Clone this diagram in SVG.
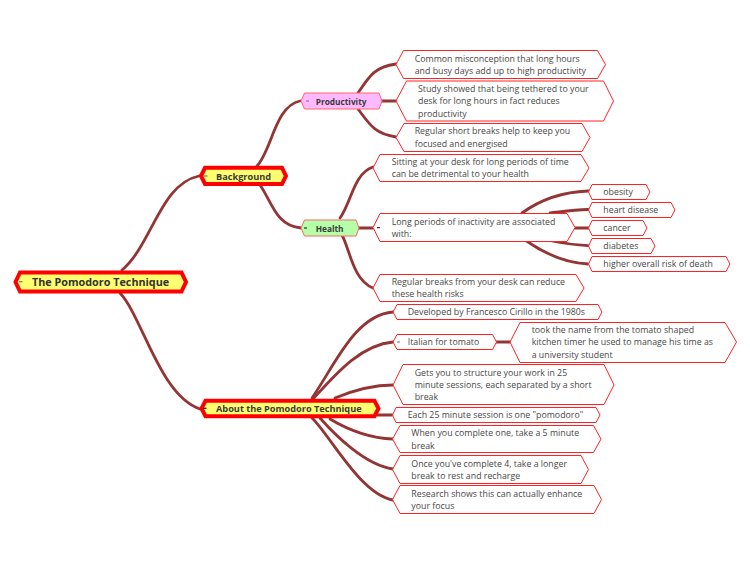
<svg xmlns="http://www.w3.org/2000/svg" width="750" height="563" viewBox="0 0 750 563">
<style>
text{font-family:"Open Sans","Noto Sans","Liberation Sans",sans-serif}
.t{font-size:8.8px;fill:#484848}
.b{font-size:9.2px;font-weight:700;fill:#3a3a3a}
.s{font-size:8.3px;font-weight:700;fill:#3a3a3a}
.r{font-size:10.8px;font-weight:700;fill:#333}
.leaf{fill:#fff;stroke:#f22;stroke-width:1}
.main{fill:#ffff70;stroke:#f00;stroke-width:4}
.pink{fill:#ffb9ff;stroke:#f66;stroke-width:1}
.green{fill:#b4ffa8;stroke:#f66;stroke-width:1}
.dash{fill:#888}
.dk{fill:#333}
#connectors path{fill:none;stroke:#933535;stroke-width:2.8;stroke-linecap:round}
</style>
<rect width="750" height="563" fill="#fff"/>
<g id="connectors">
<path d="M122,270 C152,245 160,184 199,176"/>
<path d="M120,293 C142,316 160,396 200,409"/>
<path d="M257,166 C272,150 275,106 300,101"/>
<path d="M260,185 C272,202 276,226 301,228"/>
<path d="M358,93 C370,75 375,67 396,64"/>
<path d="M382,101 L396,101"/>
<path d="M358,109 C370,125 375,134 396,137"/>
<path d="M340,218 C351,203 354,173 373,167"/>
<path d="M359,228 L373,228"/>
<path d="M342,235 C350,250 353,280 373,288"/>
<path d="M522,213 C540,200 560,192 588,191"/>
<path d="M550,213 C560,212 572,210 588,209.5"/>
<path d="M575,228 L589,228"/>
<path d="M552,241 C562,243 575,245 588,245.7"/>
<path d="M525,240 C545,254 565,263 588,264"/>
<path d="M312,398 C335,365 355,315 393,312"/>
<path d="M313,399 C335,375 360,345 393,342"/>
<path d="M335,398 C352,391 370,385 393,385"/>
<path d="M377,415 L392,415"/>
<path d="M330,419 C345,428 365,438 393,439"/>
<path d="M320,418 C335,435 365,465 393,469"/>
<path d="M312,418 C330,435 360,494 393,500"/>
<path d="M496,342 L510,342"/>
</g>
<g id="root"><polygon class="main" points="15.5,282 20,272.5 181.5,272.5 186,282 181.5,291.5 20,291.5"/><rect class="dash" x="19" y="281" width="3.5" height="1.4"/><text class="r" x="32" y="286">The Pomodoro Technique</text></g>
<g id="background"><polygon class="main" points="201,176 205,167.8 282,167.8 286,176 282,184 205,184"/><rect class="dash" x="204" y="175.3" width="3.5" height="1.4"/><text class="b" x="216" y="179.5">Background</text></g>
<g id="about"><polygon class="main" points="201.5,408.5 205.5,400.8 374.5,400.8 378.5,408.5 374.5,416.2 205.5,416.2"/><rect class="dk" x="203" y="407.6" width="3.5" height="1.4"/><text class="b" x="216" y="412">About the Pomodoro Technique</text></g>
<g id="productivity"><polygon class="pink" points="301,101 304.5,93 379,93 382,101 379,109 304.5,109"/><rect class="dash" x="306" y="100.4" width="3" height="1.2"/><text class="s" x="315.7" y="104.5">Productivity</text></g>
<g id="health"><polygon class="green" points="301,228 304.5,220 356,220 359,228 356,236 304.5,236"/><rect class="dk" x="304" y="227.4" width="3" height="1.2"/><text class="s" x="315.7" y="231.5">Health</text></g>
<g id="n1"><polygon class="leaf" points="396,64.5 403.5,50.5 597.5,50.5 605.5,64.5 597.5,78.5 403.5,78.5"/><text class="t" x="414.7" y="61.5">Common misconception that long hours</text><text class="t" x="414.7" y="74">and busy days add up to high productivity</text></g>
<g id="n2"><polygon class="leaf" points="396,101 406.5,81 603.5,81 613.5,101 603.5,121 406.5,121"/><text class="t" x="418" y="92">Study showed that being tethered to your</text><text class="t" x="418" y="104">desk for long hours in fact reduces</text><text class="t" x="418" y="116.5">productivity</text></g>
<g id="n3"><polygon class="leaf" points="396,137.5 404,123.5 582,123.5 590,137.5 582,151.5 404,151.5"/><text class="t" x="414.7" y="134">Regular short breaks help to keep you</text><text class="t" x="414.7" y="146.5">focused and energised</text></g>
<g id="n4"><polygon class="leaf" points="373,168 380,154.5 581,154.5 589,168 581,181.5 380,181.5"/><text class="t" x="391.7" y="164.5">Sitting at your desk for long periods of time</text><text class="t" x="391.7" y="177">can be detrimental to your health</text></g>
<g id="n5"><polygon class="leaf" points="373,227.5 380,213.5 567,213.5 575,227.5 567,241.5 380,241.5"/><rect class="dk" x="377" y="227" width="3" height="1.2"/><text class="t" x="391.7" y="224.5">Long periods of inactivity are associated</text><text class="t" x="391.7" y="237">with:</text></g>
<g id="n6"><polygon class="leaf" points="588.5,192 592,184.5 646,184.5 650,192 646,199.5 592,199.5"/><text class="t" x="603.3" y="195">obesity</text></g>
<g id="n7"><polygon class="leaf" points="588.5,210 592,202.5 671,202.5 675,210 671,217.5 592,217.5"/><text class="t" x="603.3" y="213">heart disease</text></g>
<g id="n8"><polygon class="leaf" points="588.5,228 592,220.5 643,220.5 647,228 643,235.5 592,235.5"/><text class="t" x="603.3" y="231">cancer</text></g>
<g id="n9"><polygon class="leaf" points="588.5,246 592,238.5 651,238.5 655,246 651,253.5 592,253.5"/><text class="t" x="603.3" y="249">diabetes</text></g>
<g id="n10"><polygon class="leaf" points="588.5,264 592,256.5 726,256.5 730,264 726,271.5 592,271.5"/><text class="t" x="603.3" y="267">higher overall risk of death</text></g>
<g id="n11"><polygon class="leaf" points="373,288 380,274.5 576,274.5 584,288 576,301.5 380,301.5"/><text class="t" x="391.7" y="285">Regular breaks from your desk can reduce</text><text class="t" x="391.7" y="297">these health risks</text></g>
<g id="n12"><polygon class="leaf" points="393,312 397,304.5 598,304.5 602,312 598,319.5 397,319.5"/><text class="t" x="407.7" y="315">Developed by Francesco Cirillo in the 1980s</text></g>
<g id="n13"><polygon class="leaf" points="393,342 397,334.5 492.5,334.5 496.5,342 492.5,349.5 397,349.5"/><rect class="dash" x="397" y="341.4" width="3" height="1.2"/><text class="t" x="407.7" y="345">Italian for tomato</text></g>
<g id="n14"><polygon class="leaf" points="510,342 520,322.5 725,322.5 736.5,342 725,362.5 520,362.5"/><text class="t" x="531.7" y="333">took the name from the tomato shaped</text><text class="t" x="531.7" y="345">kitchen timer he used to manage his time as</text><text class="t" x="531.7" y="358">a university student</text></g>
<g id="n15"><polygon class="leaf" points="393,385 403,364.5 604,364.5 614,385 604,404.5 403,404.5"/><text class="t" x="414.7" y="375.5">Gets you to structure your work in 25</text><text class="t" x="414.7" y="388">minute sessions, each separated by a short</text><text class="t" x="414.7" y="400">break</text></g>
<g id="n16"><polygon class="leaf" points="392.5,415 396,407.5 596,407.5 600,415 596,422.5 396,422.5"/><text class="t" x="407.7" y="418">Each 25 minute session is one "pomodoro"</text></g>
<g id="n17"><polygon class="leaf" points="392.5,439 400,425.5 593.5,425.5 601,439 593.5,452.5 400,452.5"/><text class="t" x="411.3" y="436">When you complete one, take a 5 minute</text><text class="t" x="411.3" y="448.5">break</text></g>
<g id="n18"><polygon class="leaf" points="392.5,469.5 400,455.5 581,455.5 588.5,469.5 581,483.5 400,483.5"/><text class="t" x="411.3" y="466.5">Once you've complete 4, take a longer</text><text class="t" x="411.3" y="479">break to rest and recharge</text></g>
<g id="n19"><polygon class="leaf" points="392.5,499.5 400,485.5 594,485.5 601.5,499.5 594,513.5 400,513.5"/><text class="t" x="411.3" y="496.5">Research shows this can actually enhance</text><text class="t" x="411.3" y="509">your focus</text></g>
</svg>
